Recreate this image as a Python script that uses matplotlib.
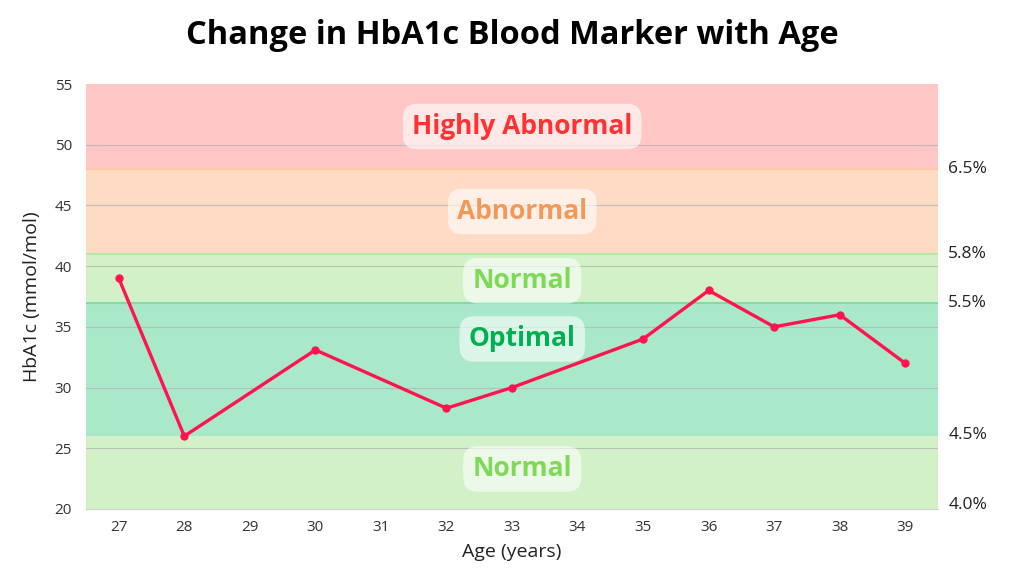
import matplotlib.pyplot as plt
import matplotlib.transforms as mtransforms

# data
ages = [27, 28, 30, 32, 33, 35, 36, 37, 38, 39]
hba1c = [39, 26, 33.1, 28.3, 30, 34, 38, 35, 36, 32]
age_ticks = list(range(27, 40))

# bands: (low, high, fill, line at the low edge)
band_lows = [20, 26, 37, 41, 48]
band_highs = [26, 37, 41, 48, 55]
band_fills = ['#d3f1c8', '#a9e8c9', '#d3f1c8', '#ffdac4', '#ffc6c6']
band_edges = [None, None, '#7fdca6', '#b6e8a4', '#ffc9a8']

band_names = ['Normal', 'Optimal', 'Normal', 'Abnormal', 'Highly Abnormal']
name_y = [23.3, 34, 38.8, 44.5, 51.5]
name_colors = ['#7ed957', '#00b050', '#7ed957', '#f2995a', '#ff3131']

pct_labels = ['4.0%', '4.5%', '5.5%', '5.8%', '6.5%']
pct_y = [20.3, 26.1, 37.0, 41.0, 48.0]

plt.rcParams['font.family'] = ['Open Sans', 'DejaVu Sans']

fig = plt.figure(figsize=(10.24, 5.76), dpi=100)
ax = fig.add_axes([86 / 1024, 1 - 509 / 576, 852 / 1024, 425 / 576])

for lo, hi, fc, ec in zip(band_lows, band_highs, band_fills, band_edges):
    ax.axhspan(lo, hi, color=fc, lw=0, zorder=0)
    if ec:
        ax.axhline(lo, color=ec, lw=1.5, zorder=0.5)

ax.set_yticks(range(20, 56, 5))
for y in range(25, 55, 5):
    ax.axhline(y, color='#b5b5b5', lw=0.8, alpha=0.8, zorder=1)

ax.plot([age_ticks.index(a) for a in ages], hba1c, color='#ff1450', lw=2.4,
        marker='o', ms=5, zorder=3)

trans = mtransforms.blended_transform_factory(ax.transAxes, ax.transData)
for name, y, c in zip(band_names, name_y, name_colors):
    ax.text(0.512, y, name, transform=trans,
            ha='center', va='center', fontsize=19, fontweight='bold', color=c, zorder=4,
            bbox=dict(boxstyle='round,pad=0.35,rounding_size=0.55', fc='white', ec='none', alpha=0.6))

for lab, y in zip(pct_labels, pct_y):
    ax.text(1.012, y, lab, transform=trans, ha='left', va='center', fontsize=12.5, color='#222222')

ax.set_xlim(-0.5, len(age_ticks) - 0.5)
ax.set_ylim(20, 55)
ax.set_xticks(range(len(age_ticks)))
ax.set_xticklabels(age_ticks)
ax.tick_params(length=0, labelsize=11, colors='#333333', pad=8)
ax.tick_params(axis='y', pad=10)
for s in ['top', 'right', 'left']:
    ax.spines[s].set_visible(False)
ax.spines['bottom'].set_color('#d0d0d0')

ax.set_xlabel('Age (years)', fontsize=14, color='#222222', labelpad=6)
ax.set_ylabel('HbA1c (mmol/mol)', fontsize=14, color='#222222', labelpad=10)

fig.text(0.5, 1 - 36 / 576, 'Change in HbA1c Blood Marker with Age', ha='center', va='center',
         fontsize=23.5, fontweight='bold', color='black')

fig.savefig('out.png', dpi=100)
